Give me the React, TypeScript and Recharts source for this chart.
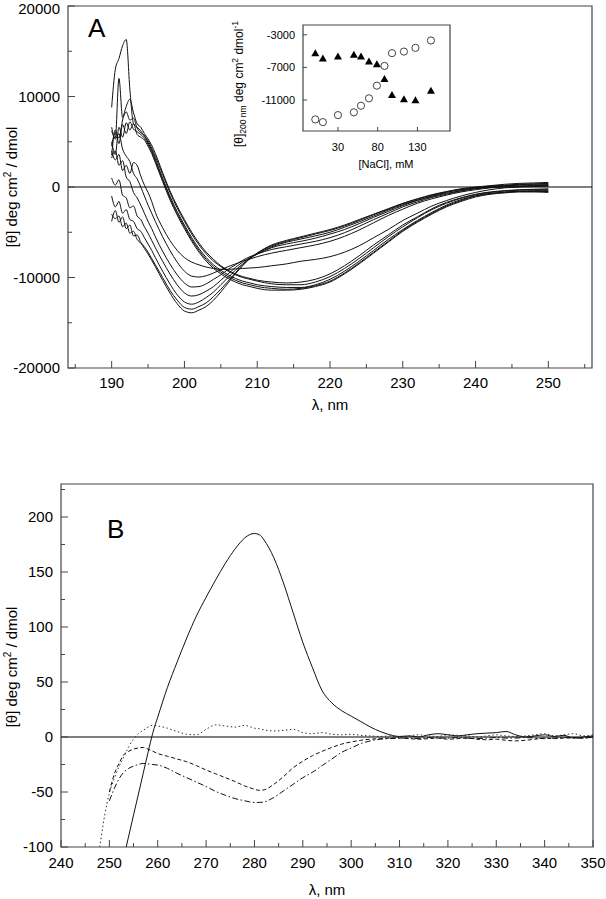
import {
  LineChart,
  Line,
  XAxis,
  YAxis,
  ReferenceLine,
  ReferenceArea,
  ScatterChart,
  Scatter,
} from "recharts"

const FONT = "'Liberation Sans', Arial, Helvetica, sans-serif"
const INK = "#111"
const FRAME = "#444"

// ---- panel A: far-UV CD spectra (values in 10^3 deg cm2 dmol-1) ----
const WL_A = [
  190, 190.5, 191, 191.5, 192, 192.5, 193, 193.5, 194, 194.5, 195, 195.5, 196,
  197, 198, 199, 200, 201, 202, 203, 204, 205, 206, 207, 208, 209, 210,
  212, 214, 216, 218, 220, 222, 224, 226, 228, 230, 232, 234, 236, 238, 240, 242, 244, 246, 248, 250,
]

const TRACE_1 = [
  8.8, 13.0, 14.2, 15.6, 16.3, 10.8, 7.0, 6.6, 6.2, 5.6, 5.1, 4.3, 3.4,
  1.4, -0.6, -2.3, -3.8, -5.2, -6.4, -7.4, -8.2, -8.8, -9.3, -9.7, -10.0, -10.2, -10.4,
  -10.7, -10.8, -10.8, -10.5, -9.9, -9.0, -7.9, -6.7, -5.5, -4.4, -3.4, -2.5, -1.8, -1.25, -0.85, -0.6, -0.45, -0.35, -0.3, -0.3,
]
const TRACE_2 = [
  6.2, 5.4, 12.0, 7.7, 8.3, 7.4, 7.6, 6.5, 6.0, 5.7, 4.9, 4.1, 3.1,
  1.0, -1.0, -2.7, -4.2, -5.6, -6.8, -7.8, -8.6, -9.2, -9.7, -10.1, -10.4, -10.6, -10.8,
  -11.0, -11.1, -11.1, -10.8, -10.2, -9.3, -8.2, -7.0, -5.8, -4.7, -3.7, -2.8, -2.0, -1.4, -0.95, -0.7, -0.55, -0.45, -0.4, -0.4,
]
const TRACE_3 = [
  4.5, 6.0, 5.4, 7.4, 8.9, 9.7, 8.2, 7.0, 6.6, 5.9, 5.3, 4.6, 3.7,
  1.6, -0.4, -2.1, -3.6, -5.0, -6.2, -7.2, -8.0, -8.7, -9.2, -9.6, -9.9, -10.1, -10.3,
  -10.5, -10.6, -10.5, -10.2, -9.6, -8.7, -7.6, -6.4, -5.3, -4.2, -3.3, -2.4, -1.7, -1.2, -0.8, -0.55, -0.4, -0.3, -0.25, -0.2,
]
const TRACE_4 = [
  3.5, 6.3, 4.8, 6.9, 5.9, 7.2, 6.4, 6.1, 5.8, 5.4, 4.7, 3.9, 2.9,
  0.8, -1.2, -2.9, -4.4, -5.8, -7.0, -8.0, -8.8, -9.4, -9.9, -10.3, -10.6, -10.8, -11.0,
  -11.2, -11.3, -11.2, -10.9, -10.4, -9.5, -8.4, -7.2, -6.0, -4.8, -3.8, -2.9, -2.1, -1.5, -1.0, -0.75, -0.6, -0.5, -0.5, -0.5,
]
const TRACE_5 = [
  5.0, 3.6, 6.6, 5.5, 7.1, 6.3, 7.0, 5.8, 5.5, 5.2, 4.5, 3.7, 2.7,
  0.6, -1.4, -3.1, -4.6, -6.0, -7.2, -8.2, -9.0, -9.6, -10.1, -10.5, -10.8, -11.0, -11.2,
  -11.4, -11.4, -11.3, -11.0, -10.5, -9.6, -8.5, -7.3, -6.1, -4.9, -3.9, -3.0, -2.2, -1.6, -1.1, -0.8, -0.65, -0.55, -0.55, -0.6,
]
const TRACE_6 = [
  4.0, 3.0, 3.6, 1.8, 2.4, 1.5, 2.7, 2.4, 1.2, 0.2, -0.6, -1.6, -2.8,
  -4.5, -5.9, -7.0, -7.8, -8.3, -8.6, -8.85, -9.0, -9.1, -9.1, -9.05, -9.0, -8.95, -8.9,
  -8.7, -8.5, -8.2, -8.0, -7.7, -7.2, -6.5, -5.6, -4.7, -3.7, -2.9, -2.1, -1.5, -1.0, -0.6, -0.3, -0.1, 0.0, 0.05, 0.1,
]
const TRACE_7 = [
  6.6, 5.3, 5.9, 4.2, 3.4, 2.8, 1.5, 0.9, 0.0, -1.0, -2.0, -2.9, -3.8,
  -5.5, -7.0, -8.3, -9.3, -9.85, -9.95, -9.8, -9.5, -9.15, -8.8, -8.5, -8.2, -7.95, -7.7,
  -7.3, -7.0, -6.7, -6.4, -6.0, -5.45, -4.75, -3.95, -3.15, -2.45, -1.8, -1.3, -0.9, -0.55, -0.3, -0.1, 0.0, 0.05, 0.1, 0.1,
]
const TRACE_8 = [
  3.2, 4.0, 2.4, 2.9, 1.1, 0.6, -0.6, -1.2, -2.0, -2.9, -3.8, -4.6, -5.5,
  -7.1, -8.5, -9.7, -10.6, -11.05, -11.0, -10.7, -10.2, -9.7, -9.1, -8.6, -8.1, -7.7, -7.4,
  -6.9, -6.6, -6.3, -6.0, -5.6, -5.05, -4.35, -3.6, -2.9, -2.2, -1.65, -1.15, -0.8, -0.45, -0.2, -0.05, 0.05, 0.1, 0.15, 0.15,
]
const TRACE_9 = [
  1.0, 0.2, 0.8, -0.9, -1.2, -2.3, -2.1, -3.2, -3.6, -4.4, -5.1, -5.9, -6.7,
  -8.2, -9.6, -10.8, -11.7, -12.05, -11.9, -11.5, -11.0, -10.3, -9.6, -8.9, -8.3, -7.8, -7.4,
  -6.7, -6.3, -6.0, -5.65, -5.2, -4.7, -4.05, -3.35, -2.7, -2.05, -1.5, -1.05, -0.7, -0.4, -0.15, 0.0, 0.1, 0.2, 0.2, 0.25,
]
const TRACE_10 = [
  -1.0, -2.2, -1.6, -2.9, -2.5, -3.6, -3.8, -4.6, -4.9, -5.6, -6.3, -7.0, -7.8,
  -9.3, -10.7, -11.9, -12.7, -12.95, -12.7, -12.2, -11.6, -10.8, -10.0, -9.2, -8.5, -7.9, -7.4,
  -6.6, -6.1, -5.75, -5.4, -5.0, -4.45, -3.85, -3.2, -2.55, -1.95, -1.45, -1.0, -0.6, -0.3, -0.1, 0.05, 0.15, 0.25, 0.3, 0.3,
]
const TRACE_11 = [
  -3.8, -2.6, -3.9, -3.3, -4.6, -4.2, -5.4, -5.3, -6.1, -6.6, -7.2, -7.9, -8.6,
  -10.0, -11.4, -12.5, -13.3, -13.5, -13.2, -12.8, -12.1, -11.3, -10.4, -9.5, -8.6, -7.9, -7.3,
  -6.5, -6.0, -5.6, -5.2, -4.8, -4.3, -3.7, -3.05, -2.45, -1.85, -1.35, -0.9, -0.55, -0.25, -0.05, 0.1, 0.2, 0.3, 0.35, 0.4,
]
const TRACE_12 = [
  -3.0, -3.5, -3.2, -4.4, -4.0, -5.1, -4.9, -5.8, -6.2, -6.8, -7.4, -8.1, -8.8,
  -10.3, -11.7, -12.9, -13.7, -13.9, -13.6, -13.2, -12.5, -11.6, -10.6, -9.6, -8.7, -7.9, -7.3,
  -6.4, -5.9, -5.5, -5.1, -4.7, -4.2, -3.6, -3.0, -2.4, -1.8, -1.3, -0.85, -0.5, -0.2, 0.0, 0.15, 0.3, 0.4, 0.45, 0.5,
]

const TRACES_A = [
  TRACE_1, TRACE_2, TRACE_3, TRACE_4, TRACE_5, TRACE_6,
  TRACE_7, TRACE_8, TRACE_9, TRACE_10, TRACE_11, TRACE_12,
]

const A_X_TICKS = [185, 190, 195, 200, 205, 210, 215, 220, 225, 230, 235, 240, 245, 250, 255]
const A_Y_TICKS = [-20000, -15000, -10000, -5000, 0, 5000, 10000, 15000, 20000]

// ---- inset: [theta]200 vs NaCl ----
const NACL_MM = [1.5, 11, 30, 50, 59, 69, 79, 88.5, 98, 113, 127.5, 147]
const THETA200_TRI = [-5250, -5920, -5670, -5460, -5670, -6290, -6610, -8420, -10380, -10910, -11040, -9860]
const THETA200_CIRC = [-13380, -13710, -12850, -12510, -11700, -10790, -9240, -6820, -5250, -5060, -4600, -3700]
const INSET_X_TICKS = [30, 80, 130]
const INSET_Y_TICKS = [-3000, -7000, -11000]

// ---- panel B: near-UV CD spectra ----
const WL_B = [
  247, 248, 249, 250, 251, 252, 253, 254, 255, 256, 257, 258, 259, 260,
  262, 264, 266, 268, 270, 272, 274, 276, 278,
  279, 280, 281, 282,
  284, 286, 288, 290, 292, 294, 296, 298, 300, 302, 304, 306, 308, 310, 312, 314, 316,
  318, 320, 322, 324, 326, 328, 330, 332, 334, 336, 338, 340, 342, 344, 346, 348, 350,
]
const B_SOLID = [
  null, null, null, null, null, -128, -109, -90, -71, -52, -33, -14, 4, 18,
  45, 68, 90, 110, 127, 143, 158, 171, 181,
  184, 185, 184, 179,
  163, 140, 113, 86, 63, 42, 31, 24, 19, 14, 9, 5, 2, 0.5, 1, 0, 2,
  3, 2, 1, 2, 3, 3.5, 4, 5, 2, 0, 1, 2, 0.5, 1.5, -1, 0, 1,
]
const B_DOTTED = [
  -125, -100, -72, -51, -38, -27, -18, -9, -2, 3, 6, 9, 10.6, 10,
  8, 5, 2.5, 2, 7, 11, 10, 9, 10.5,
  9.5, 8, 7.5, 6.5,
  5.5, 6, 7, 4, 3, 4, 2.5, 2, 2.5, 1.5, 1, 0.5, 1, 0, 1, 2, 1,
  0.5, 2, 1.5, 1, 0, 1, 2, 1, 0.5, 1, 2, 3, 1, 2, 3, 1, 2,
]
const B_DASHED = [
  null, null, null, -50, -34, -24, -16, -13, -11, -10, -9.5, -11, -13, -15,
  -17.5, -20, -22.5, -26, -30, -33.5, -37, -40.5, -44.5,
  -46, -47.5, -48.5, -48,
  -43, -36, -28, -22, -17, -13, -9.5, -6.5, -4.5, -3, -2, -1.5, -1, -1, -1.5, -2, -1.5,
  -1, -2, -1.5, -1, -2, -2.5, -2, -3, -3.5, -3, -2, -1, -1.5, -1, -0.5, -1, 0,
]
const B_DASHDOT = [
  null, null, null, -58, -47, -38, -32, -28.5, -26.5, -25, -24, -24.5, -25, -25.5,
  -28.5, -33, -37, -41, -45, -49.5, -53, -56, -58,
  -59, -59.5, -59.5, -59,
  -55, -49, -43, -37, -32, -26, -20, -14, -10, -6, -3.5, -2, -1.5, -1, -1, -1.5, -0.5,
  -1, -1, -0.5, -1, -1.5, -1, -0.5, -1, -1, -0.5, -1, -1.5, -1, -0.5, -1, -1, 0,
]

const B_X_TICKS = [240, 245, 250, 255, 260, 265, 270, 275, 280, 285, 290, 295, 300, 305, 310, 315, 320, 325, 330, 335, 340, 345, 350]
const B_Y_TICKS = [-100, -75, -50, -25, 0, 25, 50, 75, 100, 125, 150, 175, 200, 225]

const spectraA = WL_A.map((wl, i) => {
  const row: Record<string, number> = { wl }
  TRACES_A.forEach((t, k) => {
    row[`t${k + 1}`] = t[i] * 1000
  })
  return row
})

const spectraB = WL_B.map((wl, i) => ({
  wl,
  solid: B_SOLID[i],
  dotted: B_DOTTED[i],
  dashed: B_DASHED[i],
  dashdot: B_DASHDOT[i],
}))

const triPoints = NACL_MM.map((x, i) => ({ x, y: THETA200_TRI[i] }))
const circPoints = NACL_MM.map((x, i) => ({ x, y: THETA200_CIRC[i] }))

// inward tick marks, labels only on the major ones
function bottomTick(axisY: number, labelY: number, step: number, fontSize: number, majorLen = 7) {
  return (props: any) => {
    const { x, payload } = props
    const major = payload.value % step === 0
    return (
      <g>
        <line x1={x} x2={x} y1={axisY} y2={axisY - (major ? majorLen : 4)} stroke={FRAME} />
        {major && (
          <text x={x} y={labelY} textAnchor="middle" fontSize={fontSize} fontFamily={FONT} fill="#000">
            {payload.value}
          </text>
        )}
      </g>
    )
  }
}

function leftTick(axisX: number, step: number, fontSize: number, majorLen = 7) {
  return (props: any) => {
    const { y, payload } = props
    const major = payload.value % step === 0
    // keep the topmost label inside the page
    const baseline = Math.max(y + fontSize * 0.36, fontSize * 0.9)
    return (
      <g>
        <line x1={axisX} x2={axisX + (major ? majorLen : 4)} y1={y} y2={y} stroke={FRAME} />
        {major && (
          <text x={axisX - 8} y={baseline} textAnchor="end" fontSize={fontSize} fontFamily={FONT} fill="#000">
            {payload.value}
          </text>
        )}
      </g>
    )
  }
}

const triangle = (p: any) => (
  <polygon points={`${p.cx},${p.cy - 4} ${p.cx - 4},${p.cy + 3} ${p.cx + 4},${p.cy + 3}`} fill="#000" />
)
const ring = (p: any) => <circle cx={p.cx} cy={p.cy} r={3.6} fill="none" stroke="#444" strokeWidth={1} />

function PanelA() {
  return (
    <LineChart
      width={606}
      height={420}
      data={spectraA}
      margin={{ top: 6, right: 14, bottom: 12, left: 8 }}
      style={{ position: "absolute", left: 0, top: 0 }}
    >
      <XAxis
        dataKey="wl"
        type="number"
        domain={[184, 256]}
        allowDataOverflow
        ticks={A_X_TICKS}
        interval={0}
        height={40}
        axisLine={false}
        tickLine={false}
        tick={bottomTick(368, 388, 10, 15)}
      />
      <YAxis
        type="number"
        domain={[-20000, 20000]}
        allowDataOverflow
        ticks={A_Y_TICKS}
        interval={0}
        width={60}
        axisLine={false}
        tickLine={false}
        tick={leftTick(68, 10000, 15)}
      />
      <ReferenceArea x1={184} x2={256} y1={-20000} y2={20000} fill="none" stroke={FRAME} strokeWidth={1.2} ifOverflow="visible" />
      <ReferenceLine y={0} stroke="#000" strokeWidth={1.2} />
      {TRACES_A.map((_, k) => (
        <Line
          key={k}
          dataKey={`t${k + 1}`}
          type="monotone"
          stroke={INK}
          strokeWidth={1}
          dot={false}
          isAnimationActive={false}
        />
      ))}
    </LineChart>
  )
}

function Inset() {
  return (
    <ScatterChart
      width={240}
      height={165}
      margin={{ top: 10, right: 10, bottom: 0, left: 0 }}
      style={{ position: "absolute", left: 220, top: 15 }}
    >
      <XAxis
        dataKey="x"
        type="number"
        domain={[-14, 171]}
        allowDataOverflow
        ticks={INSET_X_TICKS}
        interval={0}
        height={49}
        axisLine={false}
        tickLine={false}
        tick={bottomTick(116, 136, 10, 11, 4)}
      />
      <YAxis
        dataKey="y"
        type="number"
        domain={[-14800, -1800]}
        allowDataOverflow
        ticks={INSET_Y_TICKS}
        interval={0}
        width={83}
        axisLine={false}
        tickLine={false}
        tick={leftTick(83, 1000, 11, 4)}
      />
      <ReferenceArea x1={-14} x2={171} y1={-14800} y2={-1800} fill="none" stroke={FRAME} strokeWidth={1.2} ifOverflow="visible" />
      <Scatter data={triPoints} shape={triangle} isAnimationActive={false} />
      <Scatter data={circPoints} shape={ring} isAnimationActive={false} />
    </ScatterChart>
  )
}

function PanelB() {
  return (
    <LineChart
      width={606}
      height={459}
      data={spectraB}
      margin={{ top: 44, right: 13, bottom: 12, left: 8 }}
      style={{ position: "absolute", left: 0, top: 440 }}
    >
      <XAxis
        dataKey="wl"
        type="number"
        domain={[240, 350]}
        allowDataOverflow
        ticks={B_X_TICKS}
        interval={0}
        height={40}
        axisLine={false}
        tickLine={false}
        tick={bottomTick(407, 428, 10, 15)}
      />
      <YAxis
        type="number"
        domain={[-100, 230]}
        allowDataOverflow
        ticks={B_Y_TICKS}
        interval={0}
        width={53}
        axisLine={false}
        tickLine={false}
        tick={leftTick(61, 50, 15)}
      />
      <ReferenceArea x1={240} x2={350} y1={-100} y2={230} fill="none" stroke={FRAME} strokeWidth={1.2} ifOverflow="visible" />
      <ReferenceLine y={0} stroke="#000" strokeWidth={1.2} />
      <Line dataKey="dotted" type="monotone" stroke="#333" strokeWidth={1} strokeDasharray="1.5 2.5" dot={false} isAnimationActive={false} />
      <Line dataKey="dashed" type="monotone" stroke={INK} strokeWidth={1} strokeDasharray="4 2.5" dot={false} isAnimationActive={false} />
      <Line dataKey="dashdot" type="monotone" stroke={INK} strokeWidth={1} strokeDasharray="6 2.5 1.5 2.5" dot={false} isAnimationActive={false} />
      <Line dataKey="solid" type="monotone" stroke={INK} strokeWidth={1} dot={false} isAnimationActive={false} />
    </LineChart>
  )
}

export default function App() {
  return (
    <div style={{ position: "absolute", left: 0, top: 0, width: 606, height: 899, background: "#fff", fontFamily: FONT }}>
      <PanelA />
      <Inset />
      <PanelB />
      <svg width={606} height={899} style={{ position: "absolute", left: 0, top: 0, pointerEvents: "none" }} fontFamily={FONT} fill="#000">
        <text x={88} y={37} fontSize={26}>A</text>
        <text x={107} y={538} fontSize={26}>B</text>

        <text transform="translate(17,187) rotate(-90)" textAnchor="middle" fontSize={15}>
          [θ] deg cm<tspan dy={-6} fontSize={10}>2</tspan>
          <tspan dy={6}> / dmol</tspan>
        </text>
        <text transform="translate(17,667) rotate(-90)" textAnchor="middle" fontSize={15}>
          [θ] deg cm<tspan dy={-6} fontSize={10}>2</tspan>
          <tspan dy={6}> / dmol</tspan>
        </text>
        <text x={330} y={410} textAnchor="middle" fontSize={15}>λ, nm</text>
        <text x={327} y={895} textAnchor="middle" fontSize={15}>λ, nm</text>

        <text transform="translate(243,84) rotate(-90)" textAnchor="middle" fontSize={12}>
          [θ]<tspan dy={3} fontSize={8.5}>200 nm</tspan>
          <tspan dy={-3}> deg cm</tspan>
          <tspan dy={-5} fontSize={8.5}>2</tspan>
          <tspan dy={5}> dmol</tspan>
          <tspan dy={-5} fontSize={8.5}>-1</tspan>
        </text>
        <text x={386} y={168} textAnchor="middle" fontSize={11}>[NaCl], mM</text>
      </svg>
    </div>
  )
}
